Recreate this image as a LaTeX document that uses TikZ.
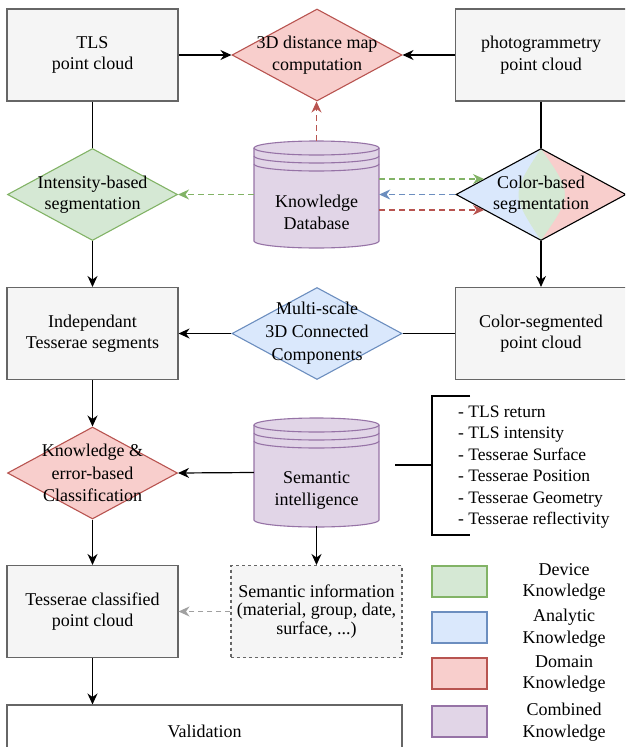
\documentclass[tikz,border=0pt]{standalone}
\usepackage{fontspec}
\newfontfamily\diagfont{LiberationSerif-Regular.ttf}
\usetikzlibrary{shapes.geometric,arrows.meta}
\definecolor{grayfill}{HTML}{F5F5F5}
\definecolor{graystroke}{HTML}{666666}
\definecolor{greenfill}{HTML}{D5E8D4}
\definecolor{greenstroke}{HTML}{82B366}
\definecolor{bluefill}{HTML}{DAE8FC}
\definecolor{bluestroke}{HTML}{6C8EBF}
\definecolor{redfill}{HTML}{F8CECC}
\definecolor{redstroke}{HTML}{B85450}
\definecolor{purplefill}{HTML}{E1D5E7}
\definecolor{purplestroke}{HTML}{9673A6}
\definecolor{dashgray}{HTML}{A0A0A0}
\newcommand\dbcyl[3]{% #1 cx, #2 top ellipse cy, #3 bottom ellipse cy
  \fill[purplefill] (#1-62.5,#2) rectangle (#1+62.5,#3);
  \fill[purplefill] (#1,#3) ellipse[x radius=62.5pt,y radius=7pt];
  \fill[purplefill] (#1,#2) ellipse[x radius=62.5pt,y radius=7pt];
  \draw[purplestroke,line width=1.1pt] (#1,#2) ellipse[x radius=62.5pt,y radius=7pt];
  \draw[purplestroke,line width=1.1pt] (#1-62.5,#2) -- (#1-62.5,#3) arc[start angle=180,end angle=360,x radius=62.5pt,y radius=7pt] -- (#1+62.5,#2);
  \draw[purplestroke,line width=1.1pt] (#1-62.5,#2+8) arc[start angle=180,end angle=360,x radius=62.5pt,y radius=7pt];
  \draw[purplestroke,line width=1.1pt] (#1-62.5,#2+16) arc[start angle=180,end angle=360,x radius=62.5pt,y radius=7pt];
}
\begin{document}
\begin{tikzpicture}[x=1pt,y=-1pt,
  font=\diagfont\fontsize{18}{21.5}\selectfont,
  lw/.style={line width=1.2pt},
  box/.style={rectangle, draw=graystroke, fill=grayfill, line width=1.1pt, minimum width=171pt, minimum height=92pt, inner sep=0pt, align=center},
  dia/.style={diamond, line width=1.1pt, minimum width=170pt, minimum height=92pt, inner sep=0pt},
  diatext/.style={align=center, font=\diagfont\fontsize{18}{21.5}\selectfont},
  cylbox/.style={rectangle, minimum width=125pt, minimum height=107pt, inner sep=0pt},
  arr/.style={-{Stealth[length=11pt,width=10pt]}, line width=1.2pt},
  darr/.style={arr, dash pattern=on 6pt off 4pt},
  legendbox/.style={rectangle, minimum width=55pt, minimum height=31pt, line width=1.1pt, inner sep=0pt},
  legendtext/.style={align=center, inner sep=0pt},
]
\useasboundingbox (0,0) rectangle (625,747);
\clip (0,0) rectangle (625,747);

% cylinders
\dbcyl{316.5}{148}{241}
\dbcyl{316.5}{425}{520}

% color-based diamond fill
\fill[bluefill] (456,194.5) -- (541,148.5) -- (626,194.5) -- (541,240.5) -- cycle;
\begin{scope}
  \clip (456,194.5) -- (541,148.5) -- (626,194.5) -- (541,240.5) -- cycle;
  \fill[greenfill] (541,148.5) .. controls (511,194.5) .. (541,240.5) -- (630,240.5) -- (630,148.5) -- cycle;
  \fill[redfill] (541,148.5) .. controls (573,194.5) .. (541,240.5) -- (630,240.5) -- (630,148.5) -- cycle;
\end{scope}

% nodes
\node[box] (tls) at (92.5,55) {TLS\\point cloud};
\node[box] (pg) at (541,55) {photogrammetry\\point cloud};
\node[dia, draw=redstroke, fill=redfill, label={[diatext]center:3D distance map\\computation}] (dm) at (317,55) {};
\node[dia, draw=greenstroke, fill=greenfill, label={[diatext]center:Intensity-based\\segmentation}] (ib) at (92.5,194.5) {};
\node[cylbox, label={[diatext,yshift=-18pt]center:Knowledge\\Database}] (kdb) at (316.5,194.5) {};
\node[dia, draw=black, label={[diatext]center:Color-based\\segmentation}] (cb) at (541,194.5) {};
\node[box] (its) at (92.5,333.5) {Independant\\Tesserae segments};
\node[dia, draw=bluestroke, fill=bluefill, label={[align=center,font=\diagfont\fontsize{18}{23}\selectfont]center:Multi-scale\\3D Connected\\Components}] (ms) at (317,333.5) {};
\node[box] (cs) at (541,333.5) {Color-segmented\\point cloud};
\node[dia, draw=redstroke, fill=redfill, label={[align=center,font=\diagfont\fontsize{18}{22.5}\selectfont]center:Knowledge \&\\error-based\\Classification}] (ke) at (92.5,473) {};
\node[cylbox, label={[diatext,yshift=-18pt]center:Semantic\\intelligence}] (si) at (316.5,472.5) {};
\node[box] (tc) at (92.5,611.5) {Tesserae classified\\point cloud};
\node[box, dash pattern=on 3pt off 3pt, font=\diagfont\fontsize{18}{18.5}\selectfont] (sinfo) at (316.5,611.5) {Semantic information\\(material, group, date,\\surface, ...)};
\node[rectangle, draw=graystroke, fill=white, line width=1.1pt, minimum width=395pt, minimum height=52pt, inner sep=0pt] (val) at (204.5,731) {Validation};

% attribute list with bracket
\coordinate (brm) at (432,465);
\draw[lw] (395,465) -- (brm);
\draw[lw] (470,396) -- (432,396) -- (432,535) -- (470,535);
\node[anchor=west, align=left, inner sep=0pt, font=\diagfont\fontsize{17.5}{21.4}\selectfont] (list) at (458,467) {- TLS return\\- TLS intensity\\- Tesserae Surface\\- Tesserae Position\\- Tesserae Geometry\\- Tesserae reflectivity};

% legend
\node[legendbox, draw=greenstroke, fill=greenfill] (lg1) at (459.5,581.5) {};
\node[legendbox, draw=bluestroke, fill=bluefill] (lg2) at (459.5,627.5) {};
\node[legendbox, draw=redstroke, fill=redfill] (lg3) at (459.5,673.5) {};
\node[legendbox, draw=purplestroke, fill=purplefill] (lg4) at (459.5,721.5) {};
\node[legendtext] (lt1) at (564,582) {Device\\Knowledge};
\node[legendtext] (lt2) at (564,628) {Analytic\\Knowledge};
\node[legendtext] (lt3) at (564,674) {Domain\\Knowledge};
\node[legendtext] (lt4) at (564,722) {Combined\\Knowledge};

% connectors
\draw[arr] (tls) -- (dm);
\draw[arr] (pg) -- (dm);
\draw[darr, redstroke] (kdb.north) -- (kdb.north |- dm.south);
\draw[lw] (tls.south) -- (ib.north);
\draw[darr, greenstroke] (kdb.west) -- (ib.east);
\draw[lw] (pg.south) -- (cb.north);
\coordinate (cbg) at (484,179);
\coordinate (cbr) at (484,210);
\draw[darr, greenstroke] (kdb.east |- cbg) -- (cbg);
\draw[darr, bluestroke] (cb.west) -- (kdb.east);
\draw[darr, redstroke] (kdb.east |- cbr) -- (cbr);
\draw[arr] (ib.south) -- (its.north);
\draw[arr] (cb.south) -- (cs.north);
\draw[lw] (cs.west) -- (ms.east);
\draw[arr] (ms.west) -- (its.east);
\draw[arr] (its.south) -- (ke.north);
\draw[arr] (si.west) -- (ke.east);
\draw[arr] (ke.south) -- (tc.north);
\draw[arr] (si.south) -- (sinfo.north);
\draw[darr, dashgray, dash pattern=on 5pt off 4pt] (sinfo.west) -- (tc.east);
\draw[arr] (tc.south) -- (tc.south |- val.north);
\end{tikzpicture}
\end{document}
